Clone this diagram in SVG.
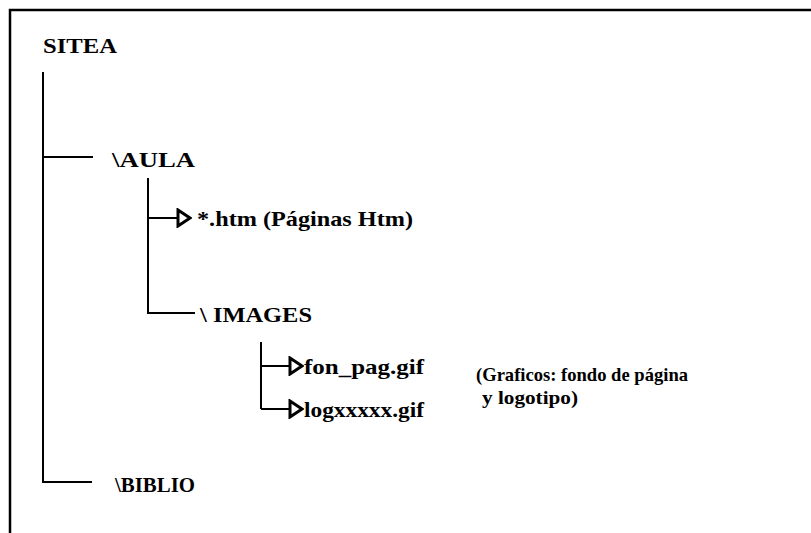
<svg xmlns="http://www.w3.org/2000/svg" width="811" height="533" viewBox="0 0 811 533">
<style>
.t{font-family:'Liberation Serif','DejaVu Serif','Times New Roman',serif;font-weight:bold;font-size:22px;fill:#000}
.s{font-size:19px}
.l{stroke:#000;stroke-width:2;fill:none}
.f{stroke:#000;stroke-width:2.5;fill:none}
</style>
<defs>
<marker id="tri" markerWidth="16" markerHeight="20" refX="14" refY="10" orient="auto" markerUnits="userSpaceOnUse">
<path d="M2,2 L14,10 L2,18 Z" fill="#fff" stroke="#000" stroke-width="3"/>
</marker>
</defs>
<rect width="811" height="533" fill="#fff"/>
<path class="f" d="M10,533 V10 H811"/>
<g id="connectors">
<path class="l" d="M43,72 V483"/>
<path class="l" d="M43,157 H93"/>
<path class="l" d="M43,482 H92"/>
<path class="l" d="M148,178 V313 H195"/>
<path class="l" d="M148,218 H190" marker-end="url(#tri)"/>
<path class="l" d="M261,342 V409"/>
<path class="l" d="M261,366 H302" marker-end="url(#tri)"/>
<path class="l" d="M261,409 H302" marker-end="url(#tri)"/>
</g>
<g id="sitea"><text class="t" x="43" y="53" textLength="74" lengthAdjust="spacingAndGlyphs">SITEA</text></g>
<g id="aula"><text class="t" x="112" y="167" textLength="83" lengthAdjust="spacingAndGlyphs">\AULA</text></g>
<g id="htm"><text class="t" x="197" y="226" textLength="216" lengthAdjust="spacingAndGlyphs">*.htm (Páginas Htm)</text></g>
<g id="images"><text class="t" x="200" y="322" textLength="112" lengthAdjust="spacingAndGlyphs">\ IMAGES</text></g>
<g id="fon"><text class="t" x="304" y="374" textLength="120" lengthAdjust="spacingAndGlyphs">fon_pag.gif</text></g>
<g id="log"><text class="t" x="304" y="417" textLength="120" lengthAdjust="spacingAndGlyphs">logxxxxx.gif</text></g>
<g id="graficos"><text class="t s" x="476" y="381" textLength="212" lengthAdjust="spacingAndGlyphs">(Graficos: fondo de página</text><text class="t s" x="482" y="404" textLength="96" lengthAdjust="spacingAndGlyphs">y logotipo)</text></g>
<g id="biblio"><text class="t" x="115" y="492" textLength="80" lengthAdjust="spacingAndGlyphs">\BIBLIO</text></g>
</svg>
